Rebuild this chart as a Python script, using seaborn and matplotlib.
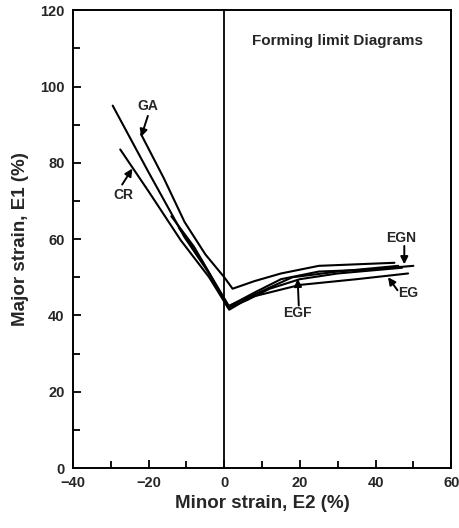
import matplotlib
matplotlib.use("Agg")
import matplotlib.pyplot as plt
from matplotlib.ticker import MultipleLocator
import seaborn as sns
import pandas as pd

sns.set_theme(style="white")
plt.rcParams['font.family'] = ['Liberation Sans', 'DejaVu Sans']

# Curves (minor strain E2 %, major strain E1 %)
ga_x = [-22, -16, -10.5, -5, 0, 2.2, 8, 15, 25, 45]
ga_y = [87.5, 76, 64.5, 56, 50, 47, 49, 51, 53, 53.8]

long_x = [-29.5, -20, -10.5, -4, 1, 8, 15, 25, 38, 50]
long_y = [95, 77.5, 60.5, 51, 42.3, 46, 49.5, 51.5, 52, 53]

cr_x = [-27.5, -20, -11.5, -4, 1, 6, 12, 20, 30, 47]
cr_y = [83.5, 72.5, 59.7, 50, 42, 44, 47, 49.5, 51, 52.5]

egf_x = [-14, -8, -3, 1.2, 8, 18, 30, 46]
egf_y = [66, 58, 49.5, 42.5, 45.5, 50, 51.5, 53]

eg_x = [-12, -6, -2, 1.3, 7, 20, 35, 48.6]
eg_y = [63, 54.5, 47.5, 41.5, 44.8, 48, 49.5, 51]

names = ["GA", "LONG", "CR", "EGF", "EG"]
xs = [ga_x, long_x, cr_x, egf_x, eg_x]
ys = [ga_y, long_y, cr_y, egf_y, eg_y]

frames = []
for n, x, y in zip(names, xs, ys):
    frames.append(pd.DataFrame({"E2": x, "E1": y, "curve": n}))
df = pd.concat(frames, ignore_index=True)

fig = plt.figure(figsize=(4.59, 5.28), dpi=100)
ax = fig.add_axes([0.159, 0.1136, 0.824, 0.867])

for n in names:
    sub = df[df.curve == n]
    sns.lineplot(data=sub, x="E2", y="E1", sort=False, color="black",
                 linewidth=1.5, ax=ax, estimator=None)

ax.axvline(0, color="black", linewidth=1.3)

ax.set_xlim(-40, 60)
ax.set_ylim(0, 120)
ax.xaxis.set_major_locator(MultipleLocator(20))
ax.xaxis.set_minor_locator(MultipleLocator(10))
ax.yaxis.set_major_locator(MultipleLocator(20))
ax.yaxis.set_minor_locator(MultipleLocator(10))
ax.tick_params(axis="both", which="both", direction="in", color="black",
               width=1.3, bottom=True, left=True, top=False, right=False)
ax.tick_params(axis="both", which="major", length=6, labelsize=10.5, pad=6)
ax.tick_params(axis="both", which="minor", length=5)
for lab in ax.get_xticklabels() + ax.get_yticklabels():
    lab.set_fontweight("bold")
for s in ax.spines.values():
    s.set_color("black")
    s.set_linewidth(1.4)

ax.set_xlabel("Minor strain, E2 (%)", fontsize=13.5, fontweight="bold", labelpad=3)
ax.set_ylabel("Major strain, E1 (%)", fontsize=13.5, fontweight="bold", labelpad=8)

ax.text(30, 112, "Forming limit Diagrams", ha="center", va="center",
        fontsize=11, fontweight="bold")

arrow = dict(arrowstyle="-|>", color="black", lw=1.4, mutation_scale=11,
             shrinkA=0, shrinkB=0)
lab_kw = dict(ha="center", va="center", fontsize=10, fontweight="bold")

ax.text(-20.3, 95, "GA", **lab_kw)
ax.annotate("", xy=(-22, 86.8), xytext=(-20.2, 92.3), arrowprops=arrow)
ax.text(-26.8, 71.5, "CR", **lab_kw)
ax.annotate("", xy=(-24.3, 78.5), xytext=(-27, 74.3), arrowprops=arrow)
ax.text(46.8, 60.3, "EGN", **lab_kw)
ax.annotate("", xy=(47.6, 53.4), xytext=(47.6, 58.2), arrowprops=arrow)
ax.text(48.6, 45.8, "EG", **lab_kw)
ax.annotate("", xy=(43.3, 50.0), xytext=(45.8, 46.6), arrowprops=arrow)
ax.text(19.4, 40.7, "EGF", **lab_kw)
ax.annotate("", xy=(19.4, 49.6), xytext=(19.7, 42.6), arrowprops=arrow)

fig.savefig("out.png", dpi=100)
